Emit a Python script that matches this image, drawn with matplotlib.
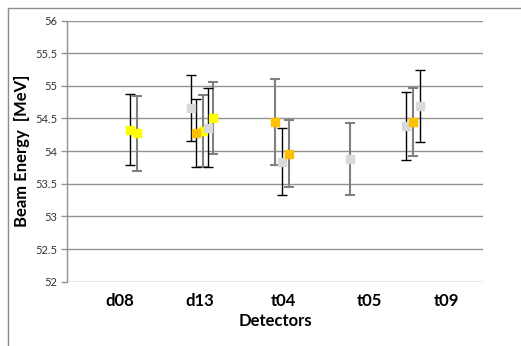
import matplotlib
matplotlib.use("Agg")
import matplotlib.pyplot as plt
from matplotlib.patches import Rectangle

# ---- data ----
categories = ["d08", "d13", "t04", "t05", "t09"]
# x positions of the category labels (axis units, axis spans 0..5)
category_pos = [0.637, 1.599, 2.600, 3.631, 4.564]

# series: x position, beam energy, error
yb_x = [0.757]; yb_y = [54.33]; yb_e = [0.55]                       # yellow, black bars
yg_x = [0.838, 1.631, 1.758]; yg_y = [54.27, 54.31, 54.51]; yg_e = [0.58, 0.55, 0.555]
gb_x = [1.490, 1.698, 2.580, 4.071, 4.243]
gb_y = [54.66, 54.36, 53.84, 54.39, 54.69]
gb_e = [0.51, 0.60, 0.51, 0.52, 0.55]
ob_x = [1.547]; ob_y = [54.28]; ob_e = [0.52]
og_x = [2.500, 2.668, 4.159]; og_y = [54.445, 53.96, 54.44]; og_e = [0.66, 0.51, 0.52]
gg_x = [3.401]; gg_y = [53.88]; gg_e = [0.555]

yticks = [52, 52.5, 53, 53.5, 54, 54.5, 55, 55.5, 56]

YELLOW = "#FFFF00"; ORANGE = "#FFC000"; LGRAY = "#D9D9D9"
BLACK = "#000000"; DGRAY = "#808080"

series = [
    (yb_x, yb_y, yb_e, YELLOW, BLACK, 1.0),
    (yg_x, yg_y, yg_e, YELLOW, DGRAY, 1.5),
    (gb_x, gb_y, gb_e, LGRAY, BLACK, 1.0),
    (ob_x, ob_y, ob_e, ORANGE, BLACK, 1.0),
    (og_x, og_y, og_e, ORANGE, DGRAY, 1.5),
    (gg_x, gg_y, gg_e, LGRAY, DGRAY, 1.5),
]

plt.rcParams['font.family'] = ['Lato', 'DejaVu Sans']

fig = plt.figure(figsize=(5.21, 3.46), dpi=100)
fig.patch.set_facecolor("white")
# outer chart border
fig.add_artist(Rectangle((8/521, -0.1), 1.2, (346-8)/346 + 0.1,
                         transform=fig.transFigure, fill=False,
                         edgecolor="#8c8c8c", linewidth=1.0))

ax = fig.add_axes([67/521, 1-281.7/346, (483-67)/521, (281.7-20.5)/346])
ax.set_xlim(0, 5)
ax.set_ylim(52, 56)

for y in yticks:
    ax.axhline(y, color="#939393", linewidth=1.0, zorder=1)

for xs, ys, es, mc, ec, lw in series:
    ax.errorbar(xs, ys, yerr=es, fmt="none", ecolor=ec, elinewidth=lw,
                capsize=3.5, capthick=lw, zorder=2)
    ax.plot(xs, ys, linestyle="none", marker="s", markersize=6.3,
            markerfacecolor=mc, markeredgecolor=mc, zorder=3)

for s in ["top", "right", "bottom"]:
    ax.spines[s].set_visible(False)
ax.spines["left"].set_color("#939393")
ax.spines["left"].set_linewidth(1.0)

ax.set_yticks(yticks)
ax.set_yticklabels([f"{v:g}" for v in yticks], fontsize=8, color="#333333")
ax.tick_params(axis="y", length=4, width=1, color="#939393", pad=3)

ax.set_xticks(category_pos)
ax.set_xticklabels(categories, fontsize=12, fontweight="bold")
ax.tick_params(axis="x", length=0, pad=8)

ax.set_xlabel("Detectors", fontsize=12, fontweight="bold", labelpad=3)
ax.set_ylabel("Beam Energy  [MeV]", fontsize=12, fontweight="bold", labelpad=4)

fig.savefig("out.png", dpi=100, facecolor="white")
